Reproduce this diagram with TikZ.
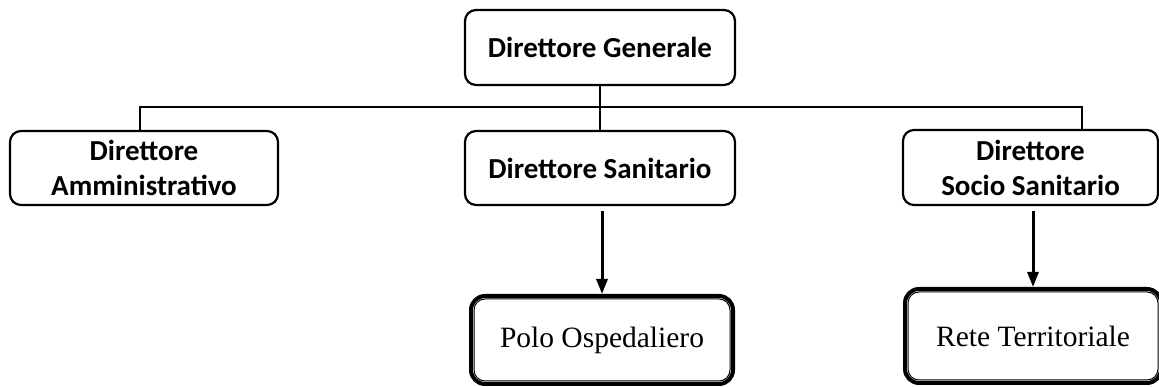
\documentclass[tikz,border=0pt]{standalone}
\usepackage{fontspec}
\newfontfamily\headfont{Carlito}
\newfontfamily\unitfont{Liberation Serif}
\usetikzlibrary{arrows.meta}

\begin{document}
\begin{tikzpicture}[
    x=1pt,y=1pt,
    >={Triangle[length=15pt,width=11pt]},
    role/.style={draw,line width=2.2pt,rounded corners=11pt,
        align=center,inner sep=0pt,
        font=\headfont\bfseries\fontsize{29}{35}\selectfont},
    unit/.style={draw,line width=4pt,rounded corners=14pt,
        align=center,inner sep=0pt,
        font=\unitfont\fontsize{29.5}{35}\selectfont},
    link/.style={line width=2pt},
    down/.style={->,line width=3pt,shorten <=5pt}
]
\useasboundingbox (0,0) rectangle (1159,387);

\node[role,minimum width=270pt,minimum height=75pt] (DG) at (600,339.5)
{Direttore Generale};

\node[role,minimum width=268pt,minimum height=74pt] (DA) at (144,219)
{Direttore\\Amministrativo};

\node[role,minimum width=270pt,minimum height=74pt] (DS) at (600,219)
{Direttore Sanitario};

\node[role,minimum width=255pt,minimum height=75pt] (DSS) at (1030.5,219.5)
{Direttore\\Socio Sanitario};

\node[unit,minimum width=262pt,minimum height=88pt] (PO) at (602,47)
{Polo Ospedaliero};

\node[unit,minimum width=256pt,minimum height=94pt] (RT) at (1033,51)
{Rete Territoriale};

% inner line of the framed boxes
\foreach \n in {PO,RT}
  \draw[line width=1pt,rounded corners=11pt]
  ([shift={(5pt,5pt)}]\n.south west) rectangle
  ([shift={(-5pt,-5pt)}]\n.north east);

\coordinate (busL) at (140,280);
\coordinate (busR) at (1082,280);

\draw[link]
(DG.south) --
(DG.south |- busL);

\draw[link]
(DA.north -| busL) --
(busL) --
(busR) --
(DSS.north -| busR);

\draw[link]
(DG.south |- busL) --
(DS.north);

\draw[down]
([xshift=2pt]DS.south) --
([xshift=2pt]DS.south |- PO.north);

\draw[down]
([xshift=2.5pt]DSS.south) --
([xshift=2.5pt]DSS.south |- RT.north);

\end{tikzpicture}
\end{document}
